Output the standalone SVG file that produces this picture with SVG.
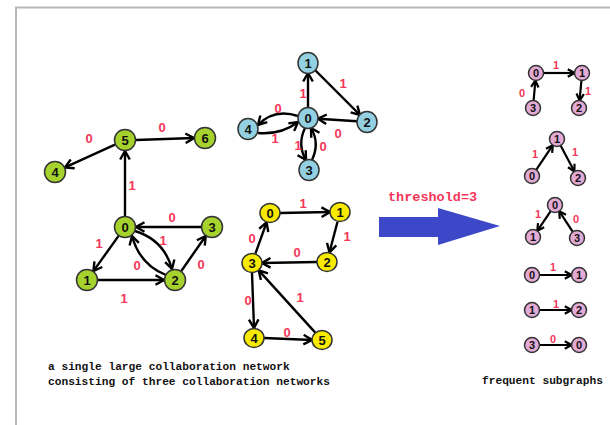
<svg xmlns="http://www.w3.org/2000/svg" width="610" height="425" viewBox="0 0 610 425">
  <defs>
    <style>
      .edge { fill: none; stroke: #000; stroke-width: 2.4; marker-end: url(#arrow); }
      .edge-s { fill: none; stroke: #000; stroke-width: 2.2; marker-end: url(#arrow-s); }
      .node circle, .node ellipse { stroke: #333; stroke-width: 1.5; }
      .green { fill: #a6d22e; }
      .blue { fill: #93d0e2; }
      .yellow { fill: #f7ea00; }
      .pink { fill: #e3aad6; }
      .nlabel { font-family: "Liberation Sans", Arial, sans-serif; font-weight: bold; font-size: 13px; fill: #111; text-anchor: middle; dominant-baseline: central; }
      .nlabel-s { font-family: "Liberation Sans", Arial, sans-serif; font-weight: bold; font-size: 11px; fill: #111; text-anchor: middle; dominant-baseline: central; }
      .elabel { font-family: "Liberation Sans", Arial, sans-serif; font-weight: bold; font-size: 13px; fill: #f5375a; text-anchor: middle; dominant-baseline: central; }
      .elabel-s { font-family: "Liberation Sans", Arial, sans-serif; font-weight: bold; font-size: 11px; fill: #f5375a; text-anchor: middle; dominant-baseline: central; }
      .caption { font-family: "Liberation Mono", "DejaVu Sans Mono", monospace; font-weight: bold; font-size: 11.2px; fill: #111; }
    </style>
    <marker id="arrow" markerUnits="userSpaceOnUse" markerWidth="12" markerHeight="12" viewBox="0 0 12 12" refX="10" refY="6" orient="auto">
      <path d="M1.5,1.2 L10,6 L1.5,10.8" fill="none" stroke="#000" stroke-width="2.4" stroke-linejoin="miter"/>
    </marker>
    <marker id="arrow-s" markerUnits="userSpaceOnUse" markerWidth="10" markerHeight="10" viewBox="0 0 10 10" refX="8.5" refY="5" orient="auto">
      <path d="M1.8,1.3 L8.5,5 L1.8,8.7" fill="none" stroke="#000" stroke-width="2.2" stroke-linejoin="miter"/>
    </marker>
  </defs>

  <!-- frame -->
  <path d="M16,425 L16,7.5 L610,7.5" fill="none" stroke="#b8b8b8" stroke-width="2"/>

  <!-- connectors -->
  <g id="connectors">
    <!-- green network -->
    <line class="edge" x1="115" y1="144.6" x2="65" y2="167.4"/>
    <line class="edge" x1="136" y1="140" x2="194" y2="138"/>
    <line class="edge" x1="125" y1="216" x2="125" y2="151"/>
    <line class="edge" x1="201" y1="227" x2="136" y2="227"/>
    <line class="edge" x1="118.6" y1="235.9" x2="93.4" y2="271.1"/>
    <line class="edge" x1="98" y1="280" x2="164" y2="280"/>
    <line class="edge" x1="181.3" y1="271" x2="205.7" y2="236"/>
    <path class="edge" d="M135,231 Q164,240 172,269"/>
    <path class="edge" d="M166,275 Q140,265 132,236"/>
    <!-- blue network -->
    <line class="edge" x1="308" y1="108" x2="308" y2="73"/>
    <line class="edge" x1="315" y1="70" x2="360" y2="115"/>
    <line class="edge" x1="357" y1="121.3" x2="318" y2="118.7"/>
    <path class="edge" d="M298,116 Q274,108 258,125"/>
    <path class="edge" d="M258,133 Q281,135 298,122"/>
    <path class="edge" d="M305,128 Q297,145 306,160"/>
    <path class="edge" d="M312,160 Q320,143 311,128"/>
    <!-- yellow network -->
    <line class="edge" x1="280" y1="213" x2="330" y2="212"/>
    <line class="edge" x1="337.5" y1="221.7" x2="329.5" y2="252.3"/>
    <line class="edge" x1="317" y1="262" x2="262" y2="263"/>
    <line class="edge" x1="255.4" y1="253.6" x2="266.6" y2="222.4"/>
    <line class="edge" x1="252" y1="273" x2="254" y2="328"/>
    <line class="edge" x1="264" y1="338" x2="312" y2="340"/>
    <line class="edge" x1="315.3" y1="332.6" x2="258.7" y2="270.4"/>
    <!-- frequent subgraphs -->
    <line class="edge-s" x1="543.5" y1="73" x2="574.5" y2="73"/>
    <line class="edge-s" x1="533.6" y1="100.5" x2="535.4" y2="80.5"/>
    <line class="edge-s" x1="581.4" y1="80.5" x2="579.6" y2="100.5"/>
    <line class="edge-s" x1="536.2" y1="169.8" x2="552.8" y2="145.2"/>
    <line class="edge-s" x1="560.6" y1="145.6" x2="574.4" y2="171.4"/>
    <line class="edge-s" x1="550.7" y1="211.2" x2="537.3" y2="230.8"/>
    <line class="edge-s" x1="572.8" y1="231.8" x2="559.2" y2="211.2"/>
    <line class="edge-s" x1="539.5" y1="275" x2="571.5" y2="275"/>
    <line class="edge-s" x1="539.5" y1="310" x2="571.5" y2="310"/>
    <line class="edge-s" x1="539.5" y1="345" x2="571.5" y2="345"/>
  </g>

  <!-- edge labels -->
  <g id="edge-labels">
    <text class="elabel" x="89" y="138">0</text>
    <text class="elabel" x="162" y="127">0</text>
    <text class="elabel" x="132" y="185">1</text>
    <text class="elabel" x="172" y="217">0</text>
    <text class="elabel" x="99" y="243">1</text>
    <text class="elabel" x="163" y="240">1</text>
    <text class="elabel" x="137" y="265">0</text>
    <text class="elabel" x="201" y="264">0</text>
    <text class="elabel" x="124" y="298">1</text>

    <text class="elabel" x="343" y="83">1</text>
    <text class="elabel" x="303" y="93">1</text>
    <text class="elabel" x="278" y="108">0</text>
    <text class="elabel" x="275" y="138">1</text>
    <text class="elabel" x="338" y="133">0</text>
    <text class="elabel" x="298" y="145">1</text>
    <text class="elabel" x="323" y="146">0</text>

    <text class="elabel" x="303" y="203">1</text>
    <text class="elabel" x="347" y="236">1</text>
    <text class="elabel" x="297" y="252">0</text>
    <text class="elabel" x="252" y="238">0</text>
    <text class="elabel" x="248" y="300">0</text>
    <text class="elabel" x="300" y="297">1</text>
    <text class="elabel" x="287" y="332">0</text>

    <text class="elabel-s" x="556" y="65">1</text>
    <text class="elabel-s" x="522" y="93">0</text>
    <text class="elabel-s" x="588" y="91">1</text>
    <text class="elabel-s" x="535" y="154">1</text>
    <text class="elabel-s" x="575" y="152">1</text>
    <text class="elabel-s" x="538" y="214">1</text>
    <text class="elabel-s" x="576" y="219">0</text>
    <text class="elabel-s" x="553" y="267">1</text>
    <text class="elabel-s" x="556" y="304">1</text>
    <text class="elabel-s" x="553" y="339">0</text>
  </g>

  <!-- green network nodes -->
  <g id="g0" class="node"><circle class="green" cx="125" cy="227" r="10.5"/><text class="nlabel" x="125" y="227">0</text></g>
  <g id="g1" class="node"><circle class="green" cx="87" cy="280" r="10.5"/><text class="nlabel" x="87" y="280">1</text></g>
  <g id="g2" class="node"><circle class="green" cx="175" cy="280" r="10.5"/><text class="nlabel" x="175" y="280">2</text></g>
  <g id="g3" class="node"><circle class="green" cx="212" cy="227" r="10.5"/><text class="nlabel" x="212" y="227">3</text></g>
  <g id="g4" class="node"><circle class="green" cx="55" cy="172" r="10.5"/><text class="nlabel" x="55" y="172">4</text></g>
  <g id="g5" class="node"><circle class="green" cx="125" cy="140" r="10.5"/><text class="nlabel" x="125" y="140">5</text></g>
  <g id="g6" class="node"><circle class="green" cx="205" cy="138" r="10.5"/><text class="nlabel" x="205" y="138">6</text></g>

  <!-- blue network nodes -->
  <g id="b0" class="node"><ellipse class="blue" cx="308" cy="118" rx="10" ry="10.5"/><text class="nlabel" x="308" y="118">0</text></g>
  <g id="b1" class="node"><ellipse class="blue" cx="308" cy="63" rx="10" ry="10.5"/><text class="nlabel" x="308" y="63">1</text></g>
  <g id="b2" class="node"><ellipse class="blue" cx="367" cy="122" rx="10" ry="10.5"/><text class="nlabel" x="367" y="122">2</text></g>
  <g id="b3" class="node"><ellipse class="blue" cx="309" cy="170" rx="10" ry="10.5"/><text class="nlabel" x="309" y="170">3</text></g>
  <g id="b4" class="node"><ellipse class="blue" cx="248" cy="129" rx="10" ry="10.5"/><text class="nlabel" x="248" y="129">4</text></g>

  <!-- yellow network nodes -->
  <g id="y0" class="node"><ellipse class="yellow" cx="270" cy="213" rx="10" ry="9.5"/><text class="nlabel" x="270" y="213">0</text></g>
  <g id="y1" class="node"><ellipse class="yellow" cx="340" cy="212" rx="10" ry="9.5"/><text class="nlabel" x="340" y="212">1</text></g>
  <g id="y2" class="node"><ellipse class="yellow" cx="327" cy="262" rx="10" ry="9.5"/><text class="nlabel" x="327" y="262">2</text></g>
  <g id="y3" class="node"><ellipse class="yellow" cx="252" cy="263" rx="10" ry="9.5"/><text class="nlabel" x="252" y="263">3</text></g>
  <g id="y4" class="node"><ellipse class="yellow" cx="254" cy="338" rx="10" ry="9.5"/><text class="nlabel" x="254" y="338">4</text></g>
  <g id="y5" class="node"><ellipse class="yellow" cx="322" cy="340" rx="10" ry="9.5"/><text class="nlabel" x="322" y="340">5</text></g>

  <!-- threshold arrow -->
  <g id="threshold">
    <polygon points="379,217 438,217 438,208 500,226 438,245 438,237 379,237" fill="#3c48c8"/>
    <text x="388" y="201" font-family="Liberation Mono, DejaVu Sans Mono, monospace" font-weight="bold" font-size="13.5" fill="#f5375a">threshold=3</text>
  </g>

  <!-- frequent subgraph nodes -->
  <g id="s1-0" class="node"><circle class="pink" cx="536" cy="73" r="7.5"/><text class="nlabel-s" x="536" y="73">0</text></g>
  <g id="s1-1" class="node"><circle class="pink" cx="582" cy="73" r="7.5"/><text class="nlabel-s" x="582" y="73">1</text></g>
  <g id="s1-3" class="node"><circle class="pink" cx="533" cy="108" r="7.5"/><text class="nlabel-s" x="533" y="108">3</text></g>
  <g id="s1-2" class="node"><circle class="pink" cx="579" cy="108" r="7.5"/><text class="nlabel-s" x="579" y="108">2</text></g>

  <g id="s2-1" class="node"><circle class="pink" cx="557" cy="139" r="7.5"/><text class="nlabel-s" x="557" y="139">1</text></g>
  <g id="s2-0" class="node"><circle class="pink" cx="532" cy="176" r="7.5"/><text class="nlabel-s" x="532" y="176">0</text></g>
  <g id="s2-2" class="node"><circle class="pink" cx="578" cy="178" r="7.5"/><text class="nlabel-s" x="578" y="178">2</text></g>

  <g id="s3-0" class="node"><circle class="pink" cx="555" cy="205" r="7.5"/><text class="nlabel-s" x="555" y="205">0</text></g>
  <g id="s3-1" class="node"><circle class="pink" cx="533" cy="237" r="7.5"/><text class="nlabel-s" x="533" y="237">1</text></g>
  <g id="s3-3" class="node"><circle class="pink" cx="577" cy="238" r="7.5"/><text class="nlabel-s" x="577" y="238">3</text></g>

  <g id="s4-0" class="node"><circle class="pink" cx="532" cy="275" r="7.5"/><text class="nlabel-s" x="532" y="275">0</text></g>
  <g id="s4-1" class="node"><circle class="pink" cx="579" cy="275" r="7.5"/><text class="nlabel-s" x="579" y="275">1</text></g>

  <g id="s5-1" class="node"><circle class="pink" cx="532" cy="310" r="7.5"/><text class="nlabel-s" x="532" y="310">1</text></g>
  <g id="s5-2" class="node"><circle class="pink" cx="579" cy="310" r="7.5"/><text class="nlabel-s" x="579" y="310">2</text></g>

  <g id="s6-3" class="node"><circle class="pink" cx="532" cy="345" r="7.5"/><text class="nlabel-s" x="532" y="345">3</text></g>
  <g id="s6-0" class="node"><circle class="pink" cx="579" cy="345" r="7.5"/><text class="nlabel-s" x="579" y="345">0</text></g>

  <!-- captions -->
  <g id="captions">
    <text class="caption" x="48" y="370">a single large collaboration network</text>
    <text class="caption" x="48" y="385">consisting of three collaboration networks</text>
    <text class="caption" x="482" y="384">frequent subgraphs</text>
  </g>
</svg>
